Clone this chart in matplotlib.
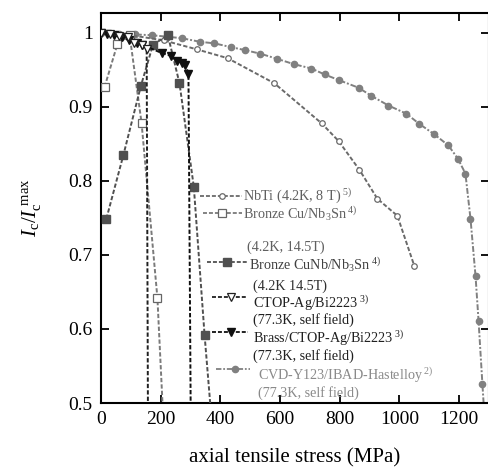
import matplotlib
matplotlib.use("Agg")
import matplotlib.pyplot as plt
from matplotlib.lines import Line2D

plt.rcParams['font.family'] = ['Liberation Serif', 'DejaVu Serif']
plt.rcParams['mathtext.fontset'] = 'custom'
plt.rcParams['mathtext.rm'] = 'Liberation Serif'
plt.rcParams['mathtext.it'] = 'Liberation Serif:italic'

# ---------------- data ----------------
nbti_x = [0, 100, 210, 320, 424, 581, 739, 796, 866, 926, 993, 1050]
nbti_y = [1.0, 0.997, 0.990, 0.978, 0.966, 0.932, 0.878, 0.854, 0.815, 0.776, 0.753, 0.685]

bcu_x = [12, 55, 96, 136, 189, 212]
bcu_y = [0.927, 0.985, 0.997, 0.878, 0.642, 0.45]

bcunb_x = [18, 75, 134, 174, 224, 263, 311, 347, 374]
bcunb_y = [0.749, 0.835, 0.929, 0.984, 0.997, 0.932, 0.792, 0.592, 0.46]

ctop_x = [0, 30, 60, 89, 112, 136, 153, 158]
ctop_y = [1.0, 0.998, 0.996, 0.995, 0.987, 0.984, 0.979, 0.40]

brass_x = [0, 20, 45, 70, 95, 120, 139, 203, 236, 253, 270, 283, 293, 302]
brass_y = [1.0, 0.999, 0.997, 0.994, 0.990, 0.986, 0.984, 0.973, 0.969, 0.962, 0.960, 0.957, 0.945, 0.40]

cvd_x = [0, 60, 115, 170, 220, 270, 333, 380, 434, 481, 534, 591, 645, 705, 749, 799,
         863, 906, 963, 1023, 1067, 1117, 1164, 1196, 1221, 1238, 1255, 1265, 1278, 1285]
cvd_y = [1.0, 0.999, 0.998, 0.997, 0.995, 0.993, 0.988, 0.986, 0.981, 0.977, 0.972, 0.965,
         0.958, 0.952, 0.944, 0.936, 0.926, 0.915, 0.902, 0.891, 0.877, 0.863, 0.848, 0.830,
         0.810, 0.749, 0.671, 0.611, 0.525, 0.48]

x_ticks = [0, 200, 400, 600, 800, 1000, 1200]
y_ticks = [0.5, 0.6, 0.7, 0.8, 0.9, 1.0]
y_ticklabels = ['0.5', '0.6', '0.7', '0.8', '0.9', '1']

labels = [
    r"NbTi (4.2K, 8 T)$^{\ 5)}$",
    r"Bronze Cu/Nb$_3$Sn$^{\ 4)}$",
    r"Bronze CuNb/Nb$_3$Sn$^{\ 4)}$",
    r"CTOP-Ag/Bi2223$^{\ 3)}$",
    r"Brass/CTOP-Ag/Bi2223$^{\ 3)}$",
    r"CVD-Y123/IBAD-Hastelloy$^{\ 2)}$",
]
sublabels = ["(4.2K, 14.5T)", "(4.2K 14.5T)", "(77.3K, self field)",
             "(77.3K, self field)", "(77.3K, self field)"]

# ---------------- figure ----------------
W, H = 488, 469
fig = plt.figure(figsize=(W / 100, H / 100), dpi=100)
ax = fig.add_axes([101 / W, 1 - 403 / H, (489 - 101) / W, (403 - 13) / H])

ls = (0, (2.2, 1.1))
styles = dict(
    nbti=dict(color='#6a6a6a', marker='o', ms=4, mfc='white', mec='#6a6a6a', mew=0.9),
    bcu=dict(color='#7a7a7a', marker='s', ms=6, mfc='white', mec='#666666', mew=0.9),
    bcunb=dict(color='#505050', marker='s', ms=6, mfc='#505050', mec='#505050'),
    ctop=dict(color='#202020', marker='v', ms=6, mfc='white', mec='#202020', mew=0.9),
    brass=dict(color='#101010', marker='v', ms=6, mfc='#101010', mec='#101010'),
    cvd=dict(color='#808080', marker='o', ms=4.5, mfc='#808080', mec='#808080'),
)
cvd_ls = (0, (3, 1, 1, 1))

ax.plot(nbti_x, nbti_y, ls=ls, lw=1.4, **styles['nbti'], zorder=3)
ax.plot(cvd_x, cvd_y, ls=cvd_ls, lw=1.4, **styles['cvd'], zorder=2)
ax.plot(bcu_x, bcu_y, ls=ls, lw=1.4, **styles['bcu'], zorder=4)
ax.plot(bcunb_x, bcunb_y, ls=ls, lw=1.4, **styles['bcunb'], zorder=4)
ax.plot(brass_x, brass_y, ls=ls, lw=1.4, **styles['brass'], zorder=5)
ax.plot(ctop_x, ctop_y, ls=ls, lw=1.4, **styles['ctop'], zorder=6)

ax.set_xlim(0, 1300)
ax.set_ylim(0.5, 1.027)
ax.set_xticks(x_ticks)
ax.set_yticks(y_ticks)
ax.set_yticklabels(y_ticklabels)
ax.tick_params(direction='in', length=6, width=1.3, top=True, right=True,
               labelsize=14, pad=6)
for s in ax.spines.values():
    s.set_linewidth(1.5)

ax.set_xlabel("axial tensile stress (MPa)", fontsize=15, labelpad=14)
ax.set_ylabel(r"$I_{\mathrm{c}}/I_{\mathrm{c}}^{\ \mathrm{max}}$", fontsize=15, labelpad=18)

# ---------------- hand-made legend ----------------
def fx(x):
    return x / W

def fy(y):
    return 1 - y / H

entries = [
    # key, line x0, x1, marker x, y, text x, text y, text color
    ('nbti', 200, 242, 222, 196, 243, 196, '#606060'),
    ('bcu', 203, 242, 222, 213, 243, 214, '#606060'),
    ('bcunb', 207, 247, 227, 262, 249, 265, '#404040'),
    ('ctop', 212, 247, 231, 297, 253, 303, '#202020'),
    ('brass', 212, 248, 231, 332, 253, 338, '#202020'),
    ('cvd', 216, 250, 235, 369, 258, 375, '#8a8a8a'),
]
for (key, x0, x1, xm, y, tx, ty, tc), lab in zip(entries, labels):
    st = dict(styles[key])
    lstyle = cvd_ls if key == 'cvd' else ls
    fig.add_artist(Line2D([fx(x0), fx(x1)], [fy(y), fy(y)], transform=fig.transFigure,
                          color=st['color'], ls=lstyle, lw=1.3))
    fig.add_artist(Line2D([fx(xm)], [fy(y)], transform=fig.transFigure, ls='none',
                          marker=st['marker'], ms=st['ms'], mfc=st['mfc'], mec=st['mec'],
                          mew=st.get('mew', 1.0)))
    fig.text(fx(tx), fy(ty), lab, fontsize=10.2, color=tc, ha='left', va='center')

sub_pos = [(247, 247, '#606060'), (253, 286, '#303030'), (253, 320, '#202020'),
           (253, 356, '#202020'), (258, 393, '#8a8a8a')]
for (tx, ty, tc), lab in zip(sub_pos, sublabels):
    fig.text(fx(tx), fy(ty), lab, fontsize=10.2, color=tc, ha='left', va='center')

fig.savefig("out.png", dpi=100)
